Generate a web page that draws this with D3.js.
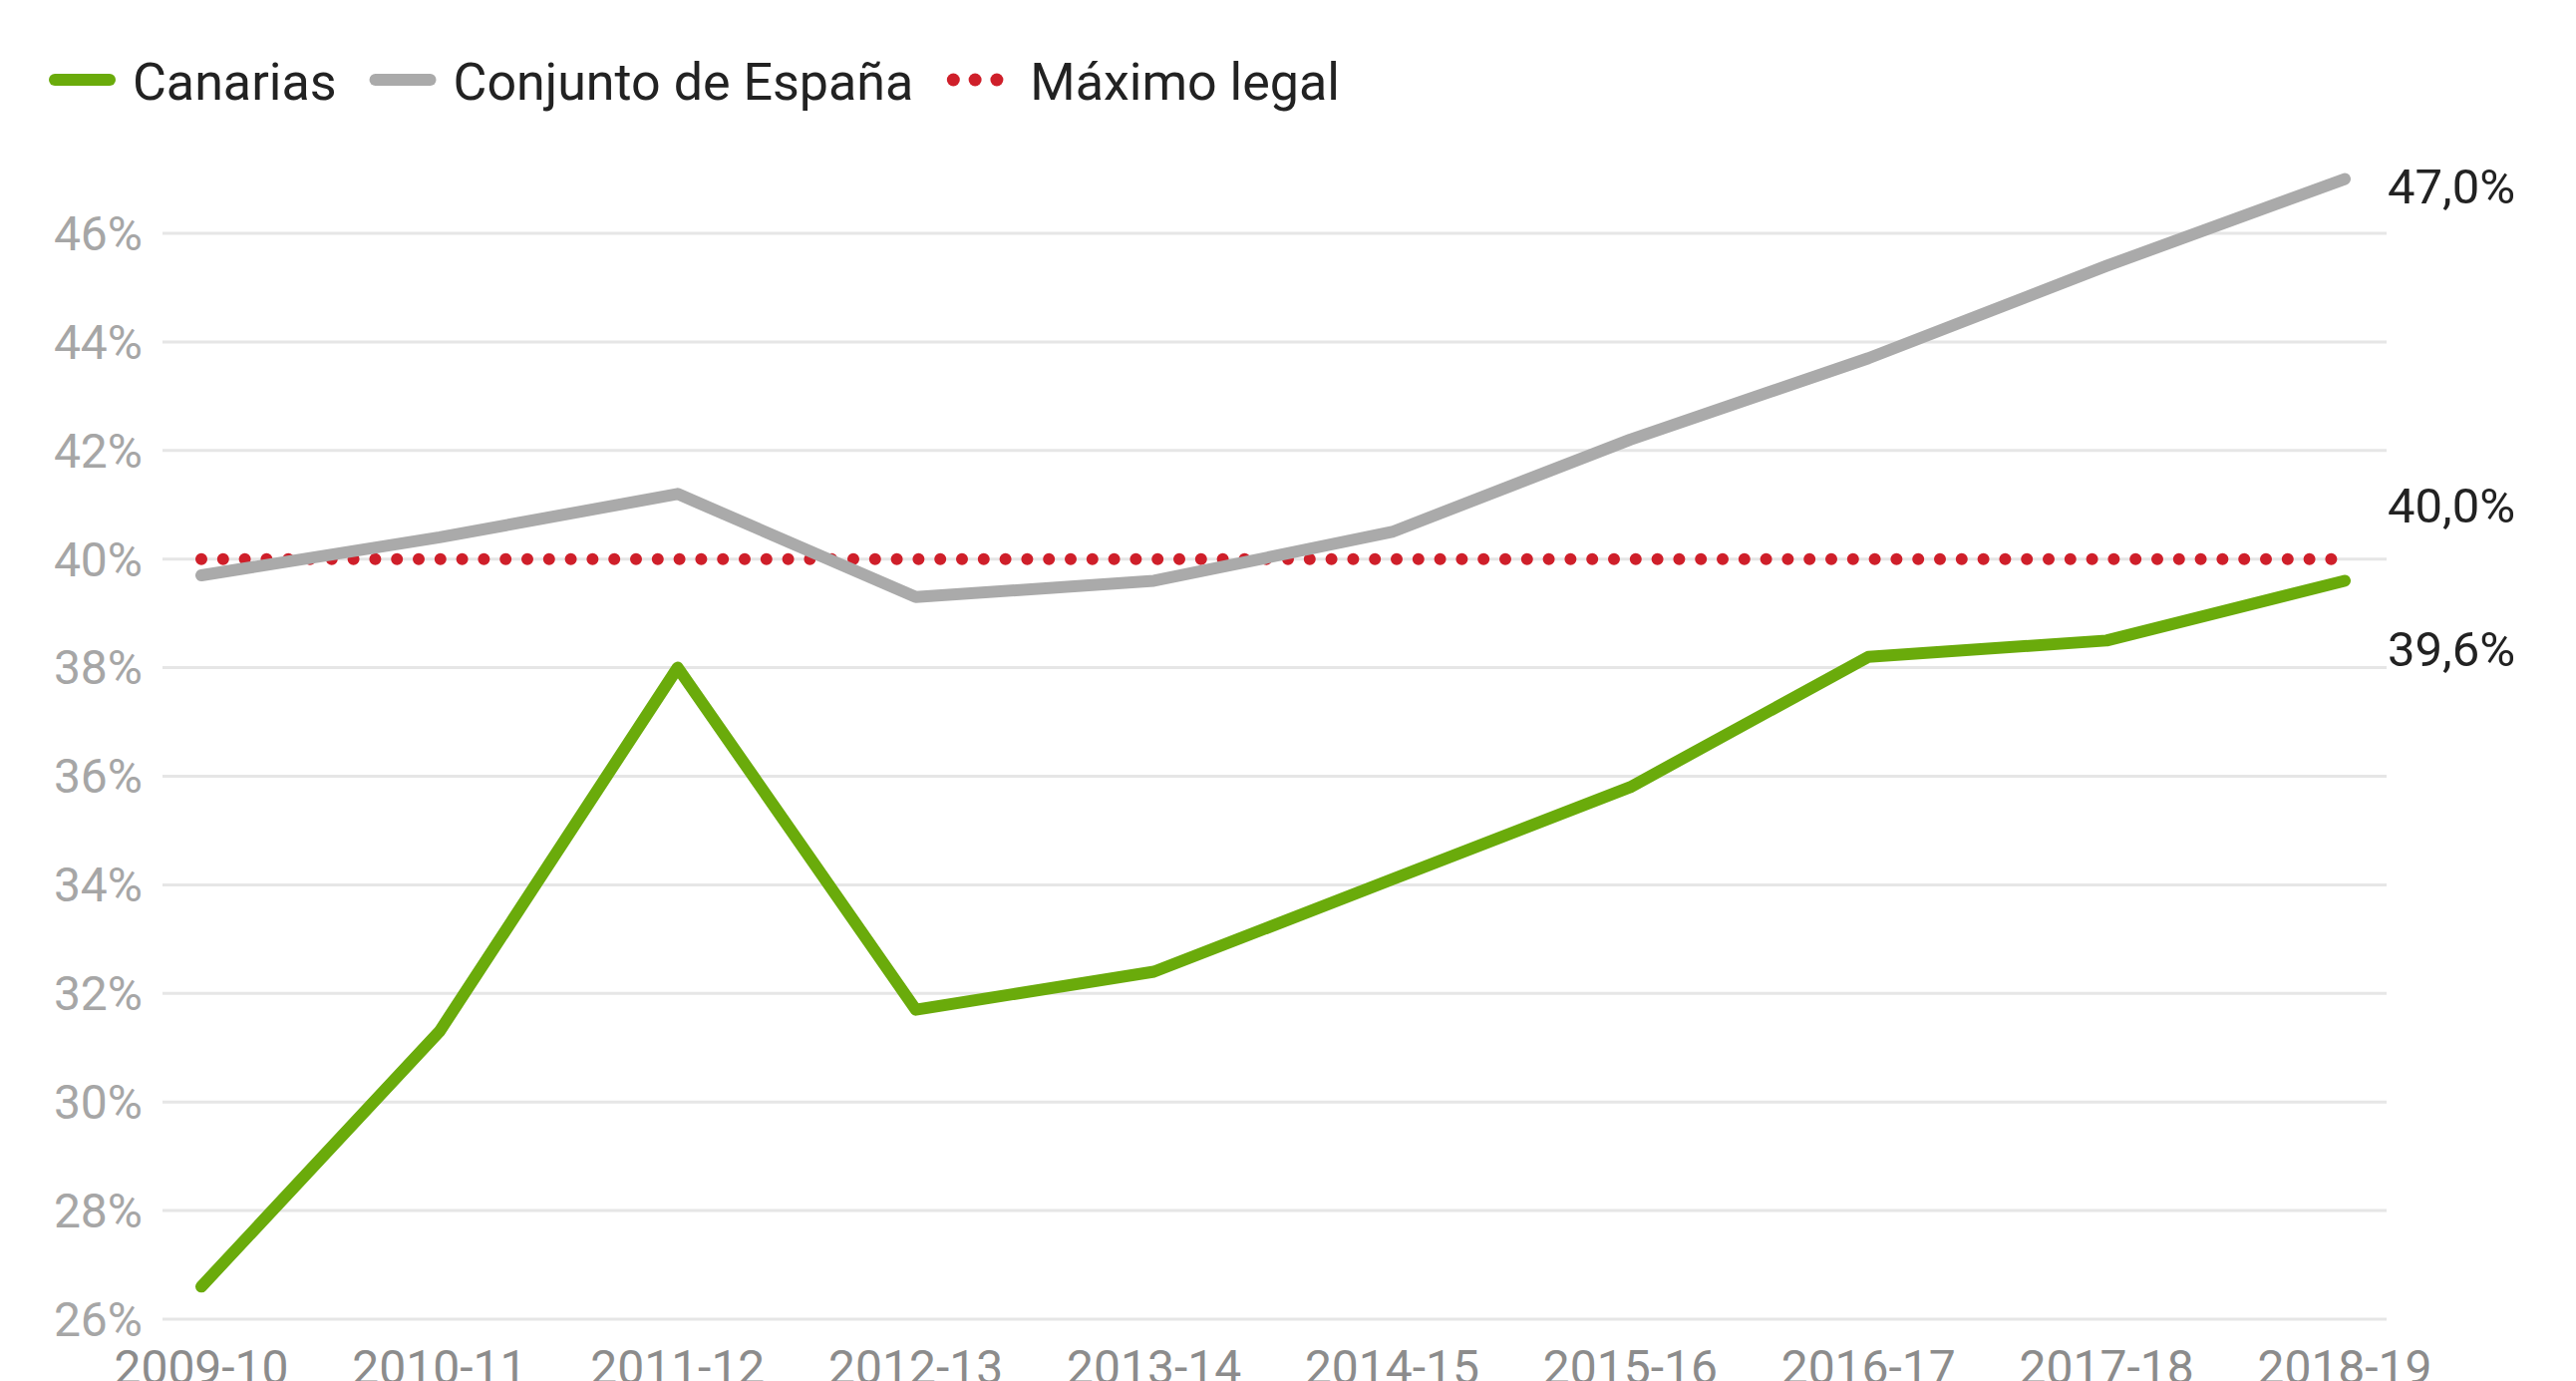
<!DOCTYPE html>
<html>
<head>
<meta charset="utf-8">
<script src="https://cdn.jsdelivr.net/npm/d3@7"></script>
<style>
  body { margin: 0; background: #fff; }
  text { font-family: Roboto, "Noto Sans", sans-serif; }
</style>
</head>
<body>
<div id="chart"></div>
<script>
// Data
var years = ["2009-10", "2010-11", "2011-12", "2012-13", "2013-14",
             "2014-15", "2015-16", "2016-17", "2017-18", "2018-19"];
var canarias = [26.6, 31.3, 38.0, 31.7, 32.4, 34.1, 35.8, 38.2, 38.5, 39.6];
var espana = [39.7, 40.4, 41.2, 39.3, 39.6, 40.5, 42.2, 43.7, 45.4, 47.0];
var maximoLegal = 40;
var yTicks = [26, 28, 30, 32, 34, 36, 38, 40, 42, 44, 46];
var legendLabels = ["Canarias", "Conjunto de España", "Máximo legal"];

var width = 2584, height = 1385;
var green = "#6aab0b", grey = "#aaaaaa", red = "#cf1f2a";

var svg = d3.select("#chart")
  .append("svg")
    .attr("width", width)
    .attr("height", height);

// Scales
var x = d3.scalePoint()
    .domain(years)
    .range([202, 2352]);

var y = d3.scaleLinear()
    .domain([26, 46])
    .range([1323, 234]);

// Gridlines
svg.append("g")
  .selectAll("line")
  .data(yTicks)
  .join("line")
    .attr("x1", 163)
    .attr("x2", 2394)
    .attr("y1", d => y(d))
    .attr("y2", d => y(d))
    .attr("stroke", "#e6e6e6")
    .attr("stroke-width", 3);

// Y axis labels
svg.append("g")
  .selectAll("text")
  .data(yTicks)
  .join("text")
    .attr("x", 143)
    .attr("y", d => y(d))
    .attr("dy", "0.35em")
    .attr("text-anchor", "end")
    .attr("font-size", 48)
    .attr("fill", "#a6a6a6")
    .text(d => d + "%");

// X axis labels (cut by the bottom edge, as in the original)
svg.append("g")
  .selectAll("text")
  .data(years)
  .join("text")
    .attr("x", d => x(d))
    .attr("y", 1388)
    .attr("text-anchor", "middle")
    .attr("font-size", 48)
    .attr("fill", "#8c8c8c")
    .text(d => d);

// Legal maximum, dotted
svg.append("line")
    .attr("x1", x(years[0]))
    .attr("x2", x(years[years.length - 1]))
    .attr("y1", y(maximoLegal))
    .attr("y2", y(maximoLegal))
    .attr("stroke", red)
    .attr("stroke-width", 12)
    .attr("stroke-linecap", "round")
    .attr("stroke-dasharray", "0 21.8");

// Lines
var line = d3.line()
    .x((d, i) => x(years[i]))
    .y(d => y(d));

svg.append("path")
    .datum(espana)
    .attr("d", line)
    .attr("fill", "none")
    .attr("stroke", grey)
    .attr("stroke-width", 12)
    .attr("stroke-linecap", "round")
    .attr("stroke-linejoin", "round");

svg.append("path")
    .datum(canarias)
    .attr("d", line)
    .attr("fill", "none")
    .attr("stroke", green)
    .attr("stroke-width", 12)
    .attr("stroke-linecap", "round")
    .attr("stroke-linejoin", "round");

// End labels, pushed apart so they don't overlap
var last = years.length - 1;
var endLabels = [
  {v: espana[last], text: "47,0%"},
  {v: maximoLegal, text: "40,0%"},
  {v: canarias[last], text: "39,6%"}
];
endLabels.forEach(d => d.y = y(d.v) + 7);
endLabels.sort((a, b) => a.y - b.y);
var minGap = 144;
for (var k = 0; k < 10; k++) {
  for (var i = 1; i < endLabels.length; i++) {
    var a = endLabels[i - 1], b = endLabels[i];
    var overlap = minGap - (b.y - a.y);
    if (overlap > 0) {
      a.y -= overlap / 2;
      b.y += overlap / 2;
    }
  }
}

svg.append("g")
  .selectAll("text")
  .data(endLabels)
  .join("text")
    .attr("x", 2395)
    .attr("y", d => d.y)
    .attr("dy", "0.35em")
    .attr("font-size", 49)
    .attr("fill", "#222")
    .text(d => d.text);

// Legend
var legend = svg.append("g");
var lx = 49;
legendLabels.forEach(function(label, i) {
  if (i < 2) {
    legend.append("line")
        .attr("x1", lx + 6)
        .attr("x2", lx + 61)
        .attr("y1", 80)
        .attr("y2", 80)
        .attr("stroke", i === 0 ? green : grey)
        .attr("stroke-width", 12)
        .attr("stroke-linecap", "round");
  } else {
    legend.selectAll("circle")
      .data([0, 1, 2])
      .join("circle")
        .attr("cx", d => lx + 7 + d * 21.8)
        .attr("cy", 80)
        .attr("r", 6.5)
        .attr("fill", red);
  }
  var t = legend.append("text")
      .attr("x", lx + 84)
      .attr("y", 100)
      .attr("font-size", 52)
      .attr("fill", "#222")
      .text(label);
  lx = lx + 84 + t.node().getComputedTextLength() + 33;
});
</script>
</body>
</html>
